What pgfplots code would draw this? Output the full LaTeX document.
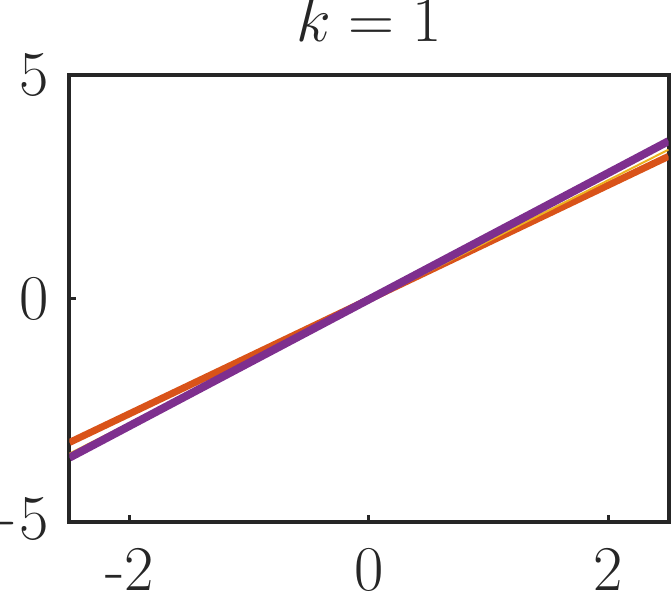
\documentclass[border=0pt]{standalone}
\usepackage{fix-cm}
\usepackage{pgfplots}
\pgfplotsset{compat=1.18}
\definecolor{morange}{rgb}{0.85,0.325,0.098}
\definecolor{myellow}{rgb}{0.929,0.694,0.125}
\definecolor{mpurple}{rgb}{0.494,0.184,0.556}
\definecolor{axgray}{rgb}{0.15,0.15,0.15}
\begin{document}
\begin{tikzpicture}
\begin{axis}[
  scale only axis,
  width=299.5bp, height=223.5bp,
  xmin=-2.5, xmax=2.5, ymin=-5, ymax=5,
  xtick={-2,0,2}, xticklabels={-2,0,2},
  ytick={-5,0,5},
  tick align=inside, xtick pos=bottom, ytick pos=left,
  major tick length=3.5bp,
  axis line style={line width=2bp, axgray},
  tick style={line width=1.5bp, axgray},
  ticklabel style={font=\fontsize{32}{38}\selectfont, text=axgray, inner sep=0pt},
  yticklabel shift=10.25bp,
  xticklabel shift=13bp,
  title={$k=1$},
  title style={font=\fontsize{32}{38}\selectfont, text=axgray, inner sep=0pt, yshift=10.5bp},
  clip=true,
]
\addplot[morange, line width=3.5bp] coordinates {(-2.5,-3.22) (2.5,3.18)};
\addplot[myellow, line width=1bp] coordinates {(-2.5,-3.47) (2.5,3.33)};
\addplot[mpurple, line width=4bp] coordinates {(-2.5,-3.56) (2.5,3.52)};
\end{axis}
\pgfresetboundingbox
\path[use as bounding box] ([shift={(-34.75bp,-36.5bp)}]current axis.south west)
  rectangle ([shift={(1.25bp,37.5bp)}]current axis.north east);
\end{tikzpicture}
\end{document}
